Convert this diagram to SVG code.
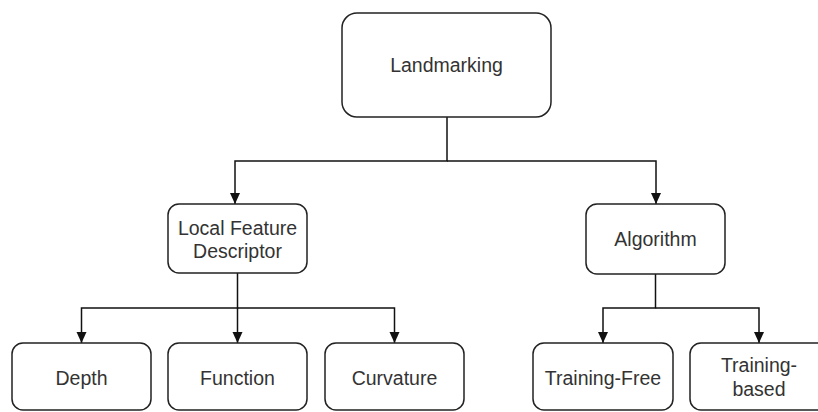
<svg xmlns="http://www.w3.org/2000/svg" width="818" height="412" viewBox="0 0 818 412">
<style>
.box{fill:#fff;stroke:#222;stroke-width:1.5}
.t{font-family:"Liberation Sans",Arial,sans-serif;font-size:19.5px;fill:#333;text-anchor:middle}
.c{fill:none;stroke:#111;stroke-width:1.5}
</style>
<defs>
<marker id="arr" markerUnits="userSpaceOnUse" markerWidth="12" markerHeight="12" refX="11" refY="5.5" orient="auto">
<path d="M0,0.5 L11,5.5 L0,10.5 z" fill="#111"/>
</marker>
</defs>
<rect width="818" height="412" fill="#fff"/>
<g id="connectors">
<path class="c" d="M447,117 V161 H235 V204" marker-end="url(#arr)"/>
<path class="c" d="M447,161 H656 V204" marker-end="url(#arr)"/>
<path class="c" d="M237.5,273 V308 H81.5 V343" marker-end="url(#arr)"/>
<path class="c" d="M237.5,308 V343" marker-end="url(#arr)"/>
<path class="c" d="M237.5,308 H394.5 V343" marker-end="url(#arr)"/>
<path class="c" d="M655.5,274 V308 H603 V343" marker-end="url(#arr)"/>
<path class="c" d="M655.5,308 H759 V343" marker-end="url(#arr)"/>
</g>
<g id="landmarking">
<rect class="box" x="342" y="13" width="209" height="104" rx="15"/>
<text class="t" x="446.5" y="72">Landmarking</text>
</g>
<g id="local-feature-descriptor">
<rect class="box" x="168" y="204" width="139" height="69" rx="11"/>
<text class="t" x="237.5" y="235">Local Feature</text>
<text class="t" x="237.5" y="258">Descriptor</text>
</g>
<g id="algorithm">
<rect class="box" x="586" y="204" width="139" height="70" rx="11"/>
<text class="t" x="655.5" y="246">Algorithm</text>
</g>
<g id="depth">
<rect class="box" x="12" y="343" width="139" height="67" rx="11"/>
<text class="t" x="81.5" y="385">Depth</text>
</g>
<g id="function">
<rect class="box" x="168" y="343" width="139" height="67" rx="11"/>
<text class="t" x="237.5" y="385">Function</text>
</g>
<g id="curvature">
<rect class="box" x="325" y="343" width="139" height="67" rx="11"/>
<text class="t" x="394.5" y="385">Curvature</text>
</g>
<g id="training-free">
<rect class="box" x="533" y="343" width="140" height="67" rx="11"/>
<text class="t" x="603" y="385">Training-Free</text>
</g>
<g id="training-based">
<rect class="box" x="690" y="343" width="139" height="67" rx="11"/>
<text class="t" x="759" y="372">Training-</text>
<text class="t" x="759" y="396">based</text>
</g>
</svg>
